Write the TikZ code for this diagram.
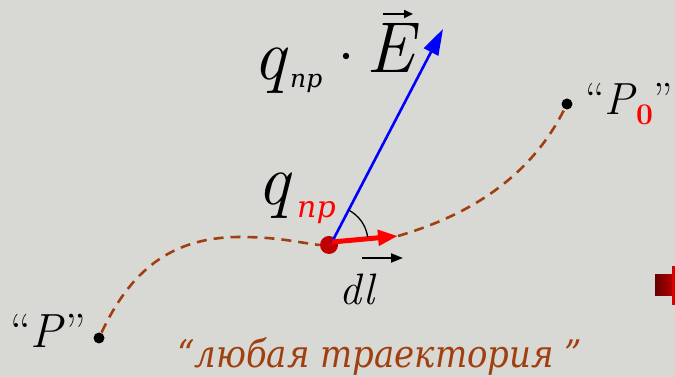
\documentclass[tikz,border=0pt]{standalone}
\usepackage{fontspec}
\newfontfamily\cyr{DejaVu Serif}
\usetikzlibrary{arrows.meta}
\definecolor{bgc}{RGB}{216,217,212}
\definecolor{trajc}{RGB}{160,64,16}
\definecolor{chargec}{RGB}{192,0,0}
\tikzset{
  traj/.style={draw=trajc, line width=2.6pt, dash pattern=on 10pt off 7pt},
  ptdot/.style={circle, fill=black, inner sep=0pt, minimum size=11pt},
  lbl/.style={inner sep=0pt},
}
\begin{document}
\begin{tikzpicture}[x=1pt,y=1pt]
\fill[bgc] (0,0) rectangle (675,377);
\useasboundingbox (0,0) rectangle (675,377);

% points
\node[ptdot] (P) at (99,39) {};
\node[ptdot] (P0) at (567,273) {};
\node[circle, fill=chargec, inner sep=0pt, minimum size=18pt] (q) at (329,132) {};
\coordinate (qc) at (332,135);
\coordinate (Etip) at (443,348);
\coordinate (dltip) at (398,141);

% trajectory
\draw[traj, shorten <=6pt] (P.center) .. controls (130,105) and (170,140) .. (240,140) .. controls (280,140) and (300,134) .. (q.west);
\draw[traj, shorten >=7pt] (dltip) .. controls (470,162) and (530,200) .. (P0.center);

% E vector
\draw[blue, line width=2.6pt, -{Triangle[length=26pt,width=16pt]}] (qc) -- (Etip);
% dl vector
\draw[red, line width=5pt, -{Triangle[length=20pt,width=15pt]}] (qc) -- (dltip);
% angle arc
\draw[black, line width=1.3pt] (qc) ++(8:36) arc[start angle=8, end angle=62.5, radius=36];

% top label q_np . E
\node[lbl, anchor=base west, font=\fontsize{72}{72}\selectfont\itshape] (qtop) at (253,297) {q};
\node[lbl, anchor=base west, font=\cyr\fontsize{25}{25}\selectfont\itshape] (nptop) at (290,289) {пр};
\fill[black] (346,321) circle (3.2pt);
\node[lbl, anchor=base west, font=\fontsize{72}{72}\selectfont\itshape] (E) at (366,304) {E};
\draw[black, line width=2pt, -{Triangle[length=9pt,width=8pt]}] (383,363) -- (413,363);

% middle label q_np
\node[lbl, anchor=base west, font=\fontsize{72}{72}\selectfont\itshape] (qmid) at (257,172) {q};
\node[lbl, anchor=base west, text=red, font=\cyr\fontsize{30}{30}\selectfont\itshape] (npmid) at (297,159) {пр};

% dl label
\node[lbl, anchor=base west, font=\fontsize{44}{44}\selectfont\itshape] (dl) at (339,72) {dl};
\draw[black, line width=2pt, -{Triangle[length=12pt,width=9pt]}] (362,119) -- (403,119);

% P labels
\node[lbl, anchor=base west, font=\fontsize{48}{48}\selectfont] (Plab) at (10,29) {“\textit{P}”};
\node[lbl, anchor=base west, font=\fontsize{45}{45}\selectfont] (P0lab) at (585,262) {“\textit{P}};
\node[lbl, anchor=base west, text=red, font=\fontsize{30}{30}\selectfont\bfseries] (zero) at (636,252) {0};
\node[lbl, anchor=base west, font=\fontsize{45}{45}\selectfont] (rq) at (653,262) {”};

% bottom caption
\node[lbl, anchor=base west, text=trajc, xscale=0.895, transform shape, font=\cyr\fontsize{38}{38}\selectfont\itshape] (cap) at (177,9) {“любая траектория ”};

% partial red arrow at right edge
\shade[left color=red!40!black, right color=red!70!black] (655,81) rectangle (672,102);
\fill[red!85!black] (672,72) rectangle (675,111);
\end{tikzpicture}
\end{document}
